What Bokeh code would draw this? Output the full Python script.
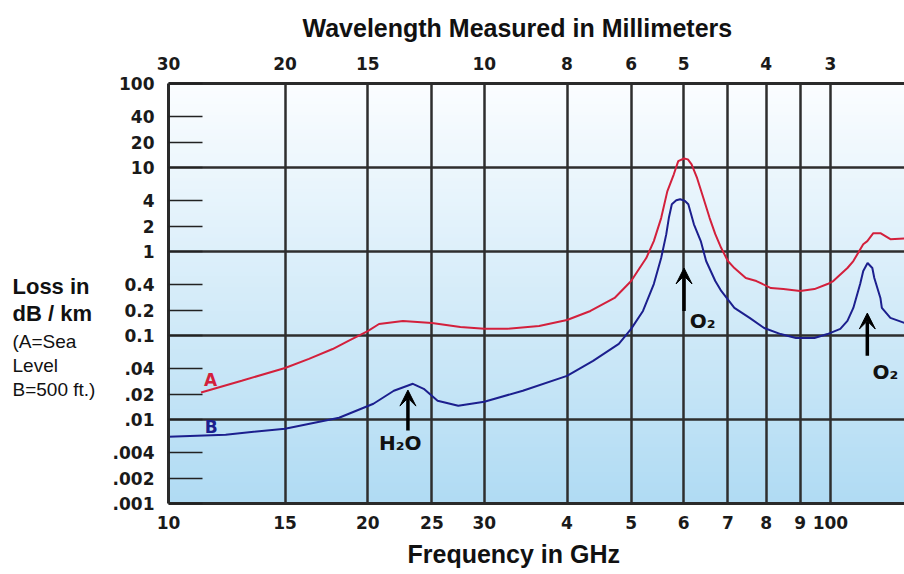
from bokeh.plotting import figure
from bokeh.layouts import row
from bokeh.models import FixedTicker, LogAxis, Label, Arrow, VeeHead, BoxAnnotation, Title
from bokeh.embed import file_html
from bokeh.resources import INLINE

# ---- axes / ticks ----
freq_ticks = [10, 15, 20, 25, 30, 40, 50, 60, 70, 80, 90, 100]
freq_tick_labels = ["10", "15", "20", "25", "30", "4", "5", "6", "7", "8", "9", "100"]
wave_tick_freqs = [10, 15, 20, 30, 40, 50, 60, 80, 100]
wave_tick_labels = ["30", "20", "15", "10", "8", "6", "5", "4", "3"]
loss_ticks = [0.001, 0.002, 0.004, 0.01, 0.02, 0.04, 0.1, 0.2, 0.4, 1, 2, 4, 10, 20, 40, 100]
loss_tick_labels = [".001", ".002", ".004", ".01", ".02", ".04", "0.1", "0.2", "0.4",
                    "1", "2", "4", "10", "20", "40", "100"]
loss_grid = [0.001, 0.01, 0.1, 1, 10, 100]

# ---- curve A (sea level) ----
freq_a = [11.2, 12.9, 15, 16.3, 17.7, 18.7, 20, 20.8, 22.6, 25, 27.6, 30, 32.5, 36.3, 40,
          43.4, 47.2, 50, 51.5, 52.7, 54.1, 55.5, 56.7, 58.0, 58.9, 60.1, 60.9, 61.7, 62.9,
          64.3, 65.7, 67.0, 68.4, 70, 71.6, 74.5, 77.3, 81.3, 84.9, 90, 94.6, 99, 101,
          106.1, 108.3, 112.1, 113.7, 116.1, 119.0, 123.2, 129.4]
loss_a = [0.021, 0.0289, 0.041, 0.0527, 0.069, 0.0863, 0.113, 0.137, 0.149, 0.141, 0.126,
          0.120, 0.120, 0.130, 0.153, 0.196, 0.280, 0.445, 0.635, 0.836, 1.33, 2.50, 5.2,
          8.3, 11.9, 12.8, 12.5, 10.9, 7.45, 4.3, 2.50, 1.61, 1.10, 0.77, 0.635, 0.483,
          0.445, 0.367, 0.357, 0.339, 0.357, 0.41, 0.445, 0.636, 0.77, 1.22, 1.33, 1.65,
          1.65, 1.40, 1.43]

# ---- curve B (500 ft) ----
freq_b = [10, 12.2, 15, 18.1, 20.4, 21.9, 23.4, 24.3, 25.5, 27.4, 30, 34.3, 40, 43.8,
          47.9, 50, 52.1, 54.1, 55.5, 56.5, 57.0, 57.6, 58.5, 59.3, 60.3, 61.0, 62.2, 63.7,
          64.9, 67.0, 68.4, 71.6, 75.5, 79.4, 84.1, 88.7, 94.6, 99, 103.5, 106.1, 108.3,
          110.9, 112.1, 113.8, 115.7, 116.5, 119.0, 119.6, 123.2, 129.4]
loss_b = [0.00625, 0.0066, 0.00778, 0.0105, 0.0154, 0.022, 0.0266, 0.0232, 0.0167, 0.0146,
          0.0163, 0.022, 0.0331, 0.0499, 0.0794, 0.120, 0.196, 0.41, 0.836, 1.61, 2.50,
          3.66, 4.07, 4.19, 4.0, 3.66, 2.11, 1.33, 0.77, 0.445, 0.339, 0.213, 0.162, 0.123,
          0.104, 0.0935, 0.0935, 0.104, 0.120, 0.149, 0.213, 0.41, 0.585, 0.73, 0.636,
          0.483, 0.280, 0.213, 0.162, 0.141]

# ---- absorption-line annotations ----
line_names = ["H\u2082O", "O\u2082", "O\u2082"]
line_freqs = [23.0, 60.1, 113.7]
arrow_tail = [0.0074, 0.196, 0.0573]
arrow_tip = [0.0224, 0.636, 0.185]

RED = "#d3203c"
BLUE = "#1c1f8e"
GRID = "#2e2e2e"
TF = "Liberation Sans"
LF = "DejaVu Sans"

# ---------------- left text panel ----------------
# (its frame is aligned with the chart frame: page y 82 .. 503)
lp = figure(width=108, height=574, x_range=(0, 108), y_range=(503, 82), title=None,
            x_axis_location=None, y_axis_location=None, toolbar_location=None,
            output_backend="svg", min_border=0)
lp.outline_line_color = None
lp.xgrid.visible = False
lp.ygrid.visible = False
lp.background_fill_color = "white"
left_lines = [("Loss in", 285, "bold", "22px"),
              ("dB / km", 313, "bold", "22px"),
              ("(A=Sea", 341, "normal", "19px"),
              ("Level", 365, "normal", "19px"),
              ("B=500 ft.)", 389, "normal", "19px")]
for txt, yy, style, size in left_lines:
    lp.add_layout(Label(x=12, y=yy, text=txt, text_align="left", text_baseline="middle",
                        text_font=TF, text_font_style=style,
                        text_font_size=size, text_color="#111111"))

# ---------------- main chart ----------------
p = figure(width=796, height=574, x_axis_type="log", y_axis_type="log",
           x_range=(10, 129.4), y_range=(0.001, 100),
           output_backend="svg", toolbar_location=None,
           min_border_left=60, min_border_right=0, min_border_top=82, min_border_bottom=71)
p.outline_line_color = None
p.background_fill_color = "#b4ddf3"
p.border_fill_color = "white"

p.title.text = "Wavelength Measured in Millimeters"
p.title.align = "left"
p.title.offset = 134
p.title.standoff = 23
p.title.text_font = TF
p.title.text_font_size = "25px"
p.title.text_font_style = "bold"
p.title.text_color = "#111111"

# gradient background (white at top -> light blue at bottom)
top_rgb = (251, 253, 255)
bot_rgb = (176, 219, 243)
n = 120
for i in range(n):
    t = i / (n - 1)
    c = tuple(int(round(bot_rgb[k] + (top_rgb[k] - bot_rgb[k]) * t)) for k in range(3))
    lo = 10 ** (-3 + 5 * i / n)
    hi = 10 ** (-3 + 5 * (i + 1.3) / n)
    p.add_layout(BoxAnnotation(bottom=lo, top=hi, fill_color="#%02x%02x%02x" % c,
                               fill_alpha=1, line_color=None, level="image"))

# grids
p.xgrid.ticker = FixedTicker(ticks=freq_ticks)
p.ygrid.ticker = FixedTicker(ticks=loss_grid)
for g in (p.xgrid[0], p.ygrid[0]):
    g.grid_line_color = GRID
    g.grid_line_width = 2.5
    g.level = "underlay"

def style_axis(ax, standoff):
    ax.minor_tick_line_color = None
    ax.axis_line_width = 3
    ax.axis_line_color = "#2a2a2a"
    ax.major_label_text_font = LF
    ax.major_label_text_font_style = "bold"
    ax.major_label_text_font_size = "17px"
    ax.major_label_text_color = "#1a1a1a"
    ax.major_label_standoff = standoff

# bottom axis (frequency)
xa = p.xaxis[0]
xa.ticker = FixedTicker(ticks=freq_ticks)
xa.major_label_overrides = {f: l for f, l in zip(freq_ticks, freq_tick_labels)}
xa.major_tick_line_color = None
style_axis(xa, 6)

# left axis (loss)
ya = p.yaxis[0]
ya.ticker = FixedTicker(ticks=loss_ticks)
ya.major_label_overrides = {v: l for v, l in zip(loss_ticks, loss_tick_labels)}
ya.major_tick_in = 34
ya.major_tick_out = 0
ya.major_tick_line_width = 1.5
ya.major_tick_line_color = "#222222"
style_axis(ya, 14)

# top axis (wavelength)
ta = LogAxis(ticker=FixedTicker(ticks=wave_tick_freqs),
             major_label_overrides={f: l for f, l in zip(wave_tick_freqs, wave_tick_labels)})
ta.major_tick_line_color = None
style_axis(ta, 8)
p.add_layout(ta, "above")

p.add_layout(Title(text="Frequency in GHz", align="left", offset=239, standoff=13,
                   text_font=TF, text_font_size="25px", text_font_style="bold",
                   text_color="#111111"), "below")

# curves
p.line(freq_a, loss_a, line_color=RED, line_width=2)
p.line(freq_b, loss_b, line_color=BLUE, line_width=2)

# arrows and line names
for f, t0, t1 in zip(line_freqs, arrow_tail, arrow_tip):
    p.add_layout(Arrow(end=VeeHead(size=16, fill_color="black", line_color="black"),
                       x_start=f, y_start=t0, x_end=f, y_end=t1,
                       line_width=3.5, line_color="black"))

p.add_layout(Label(x=22.4, y=0.0053, text=line_names[0], text_align="center",
                   text_baseline="middle", text_font=LF,
                   text_font_style="bold", text_font_size="20px", text_color="#111111"))
p.add_layout(Label(x=61.3, y=0.149, text=line_names[1], text_align="left",
                   text_baseline="middle", text_font=LF,
                   text_font_style="bold", text_font_size="20px", text_color="#111111"))
p.add_layout(Label(x=115.8, y=0.037, text=line_names[2], text_align="left",
                   text_baseline="middle", text_font=LF,
                   text_font_style="bold", text_font_size="20px", text_color="#111111"))

# series labels
p.add_layout(Label(x=11.58, y=0.0297, text="A", text_align="center", text_baseline="middle",
                   text_font=LF, text_font_style="bold",
                   text_font_size="17px", text_color=RED))
p.add_layout(Label(x=11.6, y=0.0082, text="B", text_align="center", text_baseline="middle",
                   text_font=LF, text_font_style="bold",
                   text_font_size="17px", text_color=BLUE))

layout = row(lp, p, spacing=0)
open("out.html", "w").write(file_html(layout, INLINE))
